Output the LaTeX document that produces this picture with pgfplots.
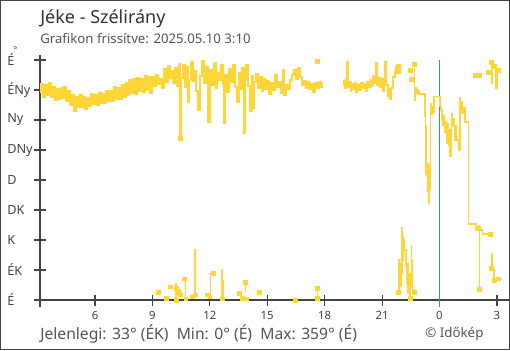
\documentclass[border=0pt]{standalone}
\usepackage{pgfplots}
\pgfplotsset{compat=1.18}
\usepackage{fontspec}
\setmainfont{Noto Sans}
\definecolor{wy}{RGB}{255,213,55}
\definecolor{ax}{RGB}{68,68,68}
\definecolor{txt}{RGB}{85,85,85}
\definecolor{mid}{RGB}{52,140,204}
\pgfplotsset{wline/.style={color=wy, const plot, mark=none, line width=1.05pt},
  wdense/.style={color=wy, const plot, mark=none, line width=1.5pt}}
\begin{document}
\begin{tikzpicture}
\path[use as bounding box] (0pt,0pt) rectangle (382.5pt,262.5pt);
\draw[ax, line width=0.75pt] (0.375pt,0.375pt) rectangle (382.125pt,262.125pt);
\begin{axis}[at={(30pt,37.5pt)}, anchor=south west,
  scale only axis, width=351.75pt, height=183.75pt,
  xmin=3.127, xmax=27.63, ymin=0, ymax=367.5,
  axis x line*=bottom, axis y line*=left,
  axis line style={-, ax, line width=0.9pt},
  xtick={6,9,...,27}, xticklabels={},
  ytick={0,45,...,360}, yticklabels={},
  tick align=center, major tick length=8.25pt,
  tick style={ax, line width=0.9pt},
  clip=false,
]
\addplot[mid, line width=0.9pt, mark=none] coordinates {(24,-10) (24,360)};
% segment A
\addplot[wdense] coordinates {
(3.13,312)(3.2,324)(3.3,305)(3.4,322)(3.5,308)(3.6,326)(3.7,304)(3.8,319)(3.9,300)
(4.0,316)(4.1,301)(4.2,318)(4.3,303)(4.4,320)(4.5,298)(4.6,313)(4.7,293)(4.8,307)(4.9,283)
(5.0,305)(5.1,289)(5.2,308)(5.3,290)(5.4,304)(5.5,286)(5.6,303)(5.7,291)(5.8,309)(5.9,294)
(6.0,308)(6.1,292)(6.2,311)(6.3,296)(6.4,309)(6.5,295)(6.6,314)(6.7,298)(6.8,313)(6.9,299)
(7.0,320)(7.1,302)(7.2,318)(7.3,301)(7.4,323)(7.5,305)(7.6,326)(7.7,308)(7.8,330)(7.9,311)
(8.0,331)(8.1,309)(8.2,333)(8.3,313)(8.4,331)(8.5,312)(8.6,336)(8.7,315)(8.8,334)(8.9,310)
(9.0,334)(9.1,321)(9.2,337)(9.3,324)(9.4,332)(9.5,318)(9.6,346)(9.7,327)(9.8,351)(9.9,333)
(10.0,343)(10.1,325)(10.2,348)(10.3,321)(10.4,354)(10.44,243)(10.5,333)(10.6,352)(10.7,319)
(10.8,349)(10.86,297)(10.9,330)(11.0,357)(11.1,328)(11.2,344)(11.3,313)(11.4,285)(11.5,336)
(11.6,358)(11.7,326)(11.8,350)(11.9,267)(12.0,345)(12.1,322)(12.2,355)(12.3,318)(12.4,341)
(12.5,330)(12.6,352)(12.7,324)(12.74,265)(12.8,338)(12.9,312)(13.0,346)(13.1,327)(13.2,353)
(13.3,320)(13.4,297)(13.5,340)(13.6,316)(13.7,348)(13.78,250)(13.85,330)(13.9,352)(14.0,321)
(14.1,283)(14.2,336)(14.25,288)(14.3,327)(14.4,339)(14.5,318)(14.6,334)(14.7,313)(14.8,331)
(14.9,317)(15.0,328)(15.1,309)(15.2,326)(15.3,315)(15.4,338)(15.5,320)(15.6,327)(15.7,311)
(15.8,345)(15.9,307)(16.0,322)(16.1,316)(16.2,330)(16.3,338)(16.4,345)(16.5,332)(16.6,348)
(16.7,335)(16.8,322)(16.9,329)(17.0,318)(17.1,327)(17.2,316)(17.3,324)(17.4,312)(17.5,326)
(17.6,318)(17.7,327)(17.8,320)(17.86,325)};
% segment B
\addplot[wdense] coordinates {
(18.96,322)(19.0,329)(19.05,318)(19.1,331)(19.17,357)(19.2,320)(19.3,327)(19.35,313)(19.4,324)
(19.5,316)(19.6,326)(19.65,312)(19.7,322)(19.8,315)(19.9,325)(20.0,318)(20.1,324)(20.15,314)
(20.2,327)(20.3,319)(20.4,330)(20.5,322)(20.55,336)(20.6,325)(20.68,355)(20.75,323)(20.8,333)
(20.9,320)(21.0,331)(21.05,314)(21.1,327)(21.15,357)(21.2,322)(21.3,306)(21.35,316)(21.4,302)
(21.45,318)(21.55,335)(21.65,343)(21.75,350)(21.83,349)};
% segment C
\addplot[wline] coordinates {
(22.67,354)(22.70,300)(22.73,318)(22.78,310)(22.83,316)(22.88,312)(22.92,309)
(23.24,275)(23.27,190)(23.30,262)(23.33,185)(23.36,205)(23.40,163)(23.43,145)(23.46,200)
(23.50,167)(23.54,295)(23.57,278)(23.60,290)(23.65,282)(23.71,305)
(24.03,290)(24.08,284)(24.13,270)(24.17,262)(24.21,276)(24.25,252)(24.30,268)(24.34,258)
(24.38,235)(24.43,265)(24.47,232)(24.51,256)(24.55,215)(24.60,247)(24.64,280)(24.68,260)
(24.72,272)(24.77,240)(24.81,262)(24.86,245)(24.92,240)(25.02,225)(25.07,303)(25.10,285)
(25.14,298)(25.18,280)(25.23,288)(25.33,267)(25.50,114)(25.94,108)(26.06,112)(26.08,16)
(26.10,110)(26.15,105)(26.26,99)(26.64,99)};
% short segments
\addplot[wline] coordinates {(25.85,337)(25.97,337)(26.1,337)};
\addplot[wline] coordinates {(26.69,357)(26.72,325)(26.74,345)};
\addplot[wline] coordinates {(26.9,345)(26.95,318)(27.0,340)};
\addplot[wline] coordinates {(26.70,48)(26.72,70)(26.75,50)(26.80,45)(26.85,30)};
\addplot[wline] coordinates {(21.83,12)(21.88,60)(21.9,25)(21.93,55)(21.96,20)(21.99,40)
(22.04,108)(22.06,60)(22.09,95)(22.12,80)(22.15,90)(22.18,75)(22.25,50)(22.27,25)(22.30,45)
(22.33,55)(22.36,10)(22.39,40)(22.46,3)};
\addplot[wline] coordinates {(22.50,82)(22.53,20)(22.56,60)(22.6,15)(22.67,12)};
\addplot[wline] coordinates {(10.20,25)(10.23,0)(10.26,18)(10.3,8)(10.35,15)(10.44,8)};
\addplot[wline] coordinates {(10.65,32)(10.70,28)(10.74,2)};
\addplot[wline] coordinates {(11.18,8)(11.22,75)(11.25,10)};
\addplot[wline] coordinates {(11.98,40)(12.02,5)(12.05,38)(12.1,42)(12.17,40)};
\addplot[wline] coordinates {(12.6,45)(12.64,2)(12.68,30)};
\addplot[wline] coordinates {(13.82,27)(13.86,12)};
\addplot[wline] coordinates {(17.58,18)(17.62,3)};
% isolated points
\addplot[only marks, mark=square*, mark size=1.4pt, mark options={fill=wy, draw=wy}] coordinates {
(9.29,12)(9.71,3)(9.92,20)(10.23,0)(10.26,18)(10.44,8)(10.65,32)(10.74,2)(11.07,5)(11.22,8)
(11.85,8)(12.0,5)(12.17,40)(12.64,2)(13.52,10)(13.68,3)(13.84,27)(13.89,2)(14.57,12)(16.45,0)
(17.6,18)(17.62,3)(21.83,12)(22.46,3)(22.67,12)
(10.44,243)(17.6,358)(21.83,351)(21.83,343)(22.46,345)(22.51,331)(22.67,354)(25.94,108)
(26.08,16)(26.64,99)(25.85,337)(25.97,337)(26.1,337)(26.53,342)(26.69,357)(26.85,351)
(27.06,345)(26.72,48)(26.85,30)(27.06,32)};
\end{axis}
\draw[ax, line width=0.9pt] (25.5pt,37.5pt) -- (30pt,37.5pt);
\draw[ax, line width=0.9pt] (30pt,37.5pt) -- (30pt,32.25pt);
% y labels
\begin{scope}[every node/.style={anchor=west, text=ax, font=\fontsize{9.5}{11}\selectfont, inner sep=0pt}]
\node at (5.25pt,37.5pt) {É};
\node at (5.25pt,60pt) {ÉK};
\node at (5.25pt,82.5pt) {K};
\node at (5.25pt,105pt) {DK};
\node at (5.25pt,127.5pt) {D};
\node at (5.25pt,150pt) {DNy};
\node at (5.25pt,172.5pt) {Ny};
\node at (5.25pt,195pt) {ÉNy};
\node at (5.25pt,217.5pt) {É};
\end{scope}
\node[anchor=base, text=ax, font=\fontsize{7}{8}\selectfont, inner sep=0pt] at (11.5pt,222pt) {°};
% x labels
\begin{scope}[every node/.style={anchor=base, text=ax, font=\fontsize{8.5}{10}\selectfont, inner sep=0pt}]
\node at (71.25pt,23pt) {6};
\node at (114.3pt,23pt) {9};
\node at (157.35pt,23pt) {12};
\node at (200.4pt,23pt) {15};
\node at (243.5pt,23pt) {18};
\node at (286.6pt,23pt) {21};
\node at (329.6pt,23pt) {0};
\node at (372.7pt,23pt) {3};
\end{scope}
\node[anchor=base west, inner sep=0pt, text={rgb,255:red,51;green,51;blue,51}, font=\fontsize{13.5}{16}\selectfont] at (30pt,244.5pt) {Jéke - Szélirány};
\node[anchor=base west, inner sep=0pt, text=txt, font=\fontsize{9.9}{12}\selectfont] at (30pt,229.5pt) {Grafikon frissítve: 2025.05.10 3:10};
\node[anchor=base west, inner sep=0pt, text=txt, font=\fontsize{11.75}{14}\selectfont] at (30pt,8.25pt) {Jelenlegi: 33° (ÉK)\ \ Min: 0° (É)\ \ Max: 359° (É)};
\node[anchor=base west, inner sep=0pt, text=txt, font=\fontsize{10}{12}\selectfont] at (318.75pt,9.75pt) {© Időkép};
\end{tikzpicture}
\end{document}
